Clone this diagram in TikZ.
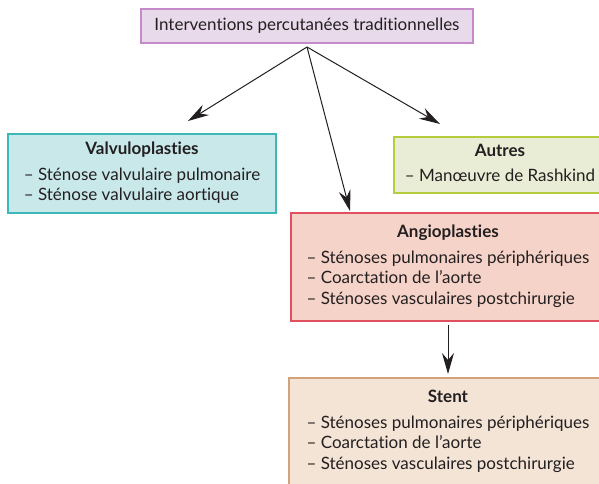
\documentclass[tikz,border=0pt]{standalone}
\usepackage{fontspec}
\setmainfont{Lato}[Ligatures=NoCommon]
\usetikzlibrary{arrows.meta}
\definecolor{txt}{HTML}{231F20}
\definecolor{topfill}{HTML}{E8DAEA}\definecolor{topdraw}{HTML}{C58BC8}
\definecolor{valfill}{HTML}{C8E8EA}\definecolor{valdraw}{HTML}{3DB8B8}
\definecolor{autfill}{HTML}{EAEDD5}\definecolor{autdraw}{HTML}{B5CC3C}
\definecolor{angfill}{HTML}{F6D3C8}\definecolor{angdraw}{HTML}{E0505E}
\definecolor{stefill}{HTML}{F3E4D6}\definecolor{stedraw}{HTML}{D4A27A}
\newcommand{\boxtext}[2]{\begin{tabular}{@{}l@{}}\multicolumn{1}{@{}c@{}}{\bfseries #1}\\[5pt]#2\end{tabular}}
\begin{document}
\begin{tikzpicture}[x=1pt,y=-1pt,
  every node/.style={font=\fontsize{17}{20.5}\selectfont, text=txt},
  cbox/.style={draw, line width=1.3pt, rectangle, inner sep=0pt},
  arr/.style={draw=txt, line width=1pt, -{Stealth[length=21pt,width=12pt,inset=7pt]}}]
\useasboundingbox (0,0) rectangle (599,484);
\clip (0,0) rectangle (599,484);
\node[cbox, draw=topdraw, fill=topfill, minimum width=332pt, minimum height=34pt] (top) at (307,26) {Interventions percutanées traditionnelles};
\node[cbox, draw=valdraw, fill=valfill, minimum width=268pt, minimum height=79pt] (val) at (142,173.5)
  {\boxtext{Valvuloplasties}{– Sténose valvulaire pulmonaire\\– Sténose valvulaire aortique}};
\node[cbox, draw=autdraw, fill=autfill, minimum width=212pt, minimum height=56pt] (aut) at (500,165)
  {\boxtext{Autres}{– Manœuvre de Rashkind}};
\node[cbox, draw=angdraw, fill=angfill, minimum width=314pt, minimum height=108pt] (ang) at (448,267)
  {\boxtext{Angioplasties}{– Sténoses pulmonaires périphériques\\– Coarctation de l’aorte\\– Sténoses vasculaires postchirurgie}};
\node[cbox, draw=stedraw, fill=stefill, minimum width=318pt, minimum height=108pt] (ste) at (448,432)
  {\boxtext{Stent}{– Sténoses pulmonaires périphériques\\– Coarctation de l’aorte\\– Sténoses vasculaires postchirurgie}};
\coordinate (src) at (307,47);
\coordinate (tval) at (188,121);
\coordinate (tang) at (350,211);
\coordinate (taut) at (440,124);
\coordinate (vsrc) at (448,325);
\coordinate (vtip) at (448,374);
\draw[arr] (src) -- (tval);
\draw[arr] (src) -- (tang);
\draw[arr] (src) -- (taut);
\draw[arr] (vsrc) -- (vtip);
\end{tikzpicture}
\end{document}
